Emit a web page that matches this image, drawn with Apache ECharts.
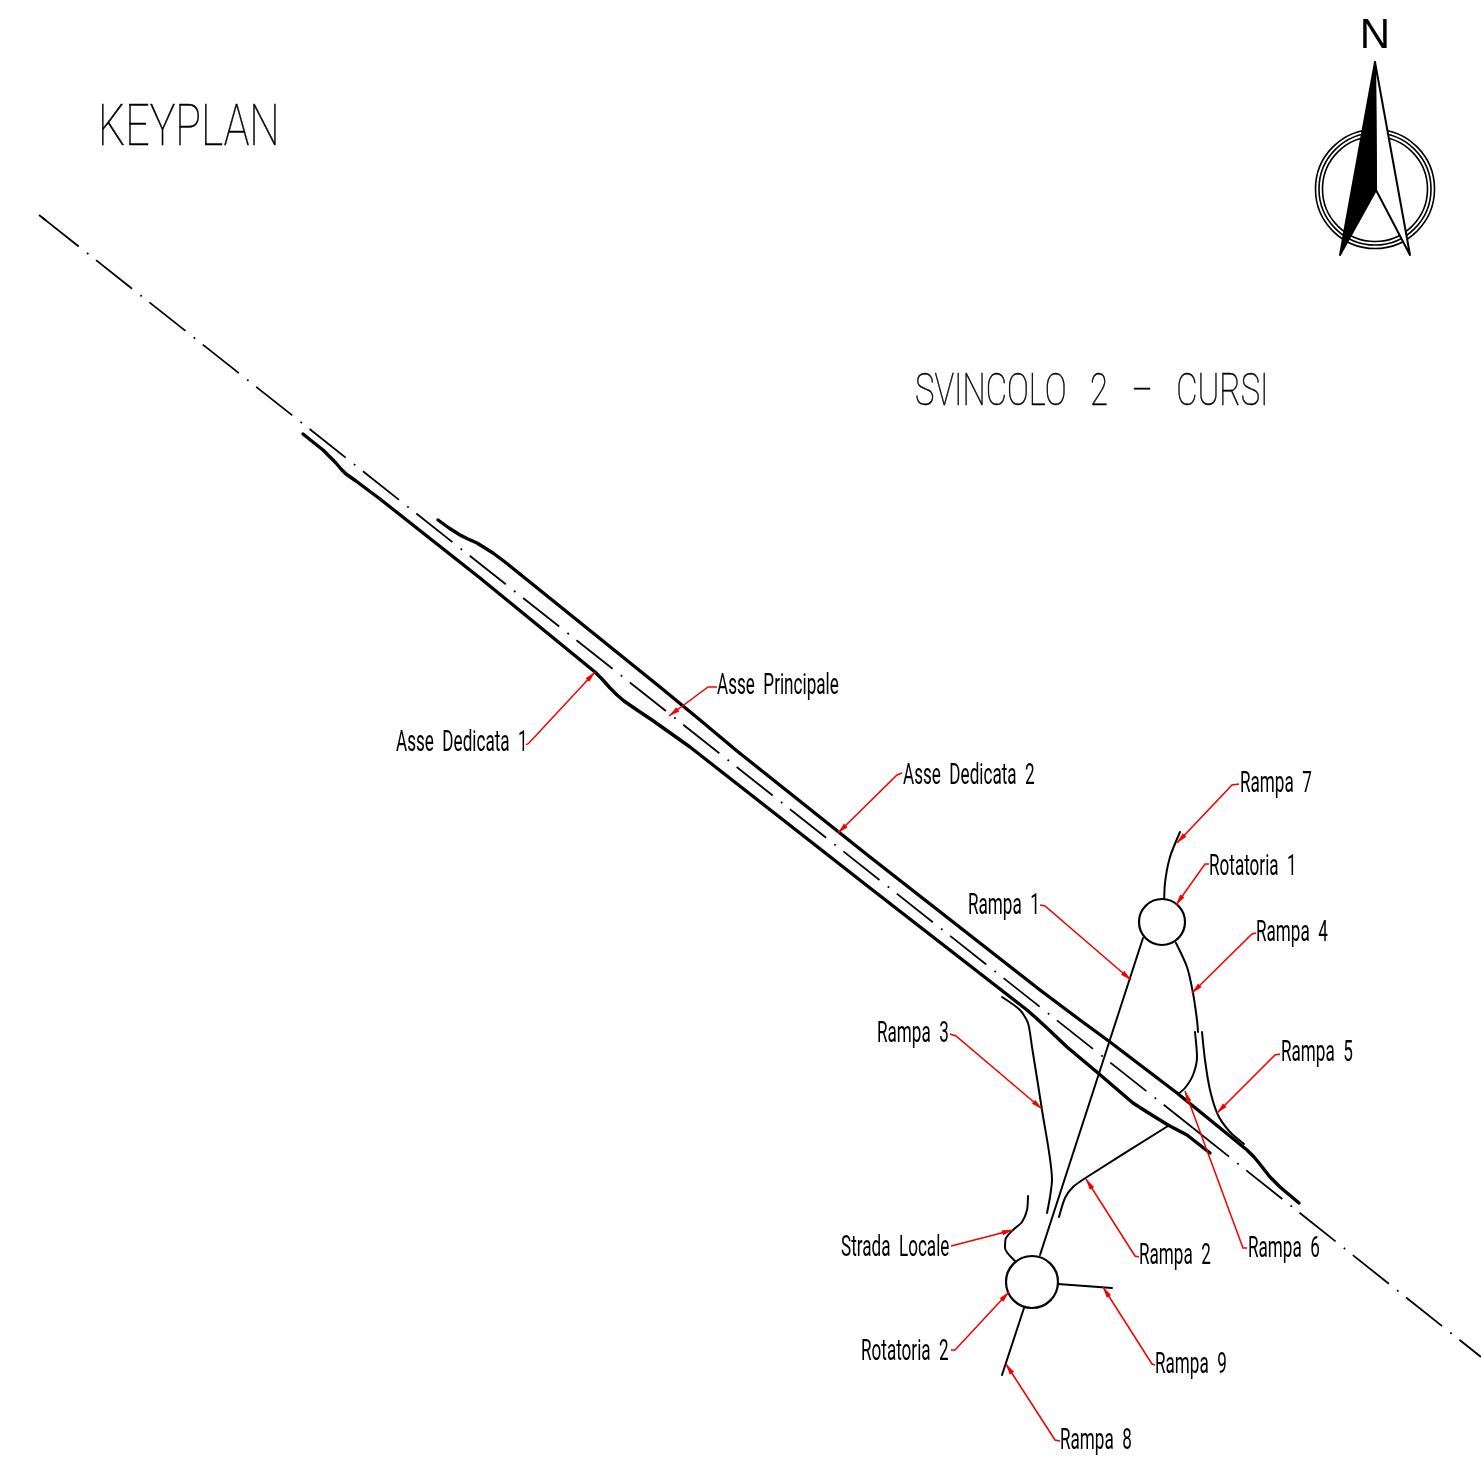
<!DOCTYPE html>
<html><head><meta charset="utf-8">
<style>html,body{margin:0;padding:0;background:#fff}#c{width:1481px;height:1463px}</style>
<script src="https://cdn.jsdelivr.net/npm/echarts@6/dist/echarts.min.js"></script>
</head><body><div id="c"></div>
<script>
// ---- road geometry (drawing units = reference pixels) ----
const centerLineHead = [[39,215],[46,220.5]];
const centerLineWest = [[39,215],[1193,1128]];
const centerLineEast = [[1193,1128],[1481,1357]];
const asseDedicata1 = [[303,434],[313,442],[323,450],[330,457],[336,463],[341,469],[346,474],[351,477.5],[356,481],[380,499],[480,578],[595,672],[602,679],[610,688],[617,695],[624,701],[637,710],[652,720],[690,747],[870,888],[1027,1010],[1035,1017],[1047,1028],[1067,1047],[1098,1073],[1133,1103],[1147,1112],[1168,1125],[1187,1135],[1210,1153]];
const asseDedicata2 = [[438,520],[449,528],[460,535],[468,539],[477,543],[485,548],[493,553],[505,562],[660,687],[700,720],[737,751],[870,857],[1040,990],[1080,1020],[1110,1042],[1177,1093],[1247,1150],[1254,1157],[1259,1163],[1270,1177],[1280,1187],[1299,1203]];
const rampa1 = [[1143,938],[1040,1255]];
const rampa2 = [[1168,1126],[1087,1177],[1073,1187],[1065,1198],[1059,1217]];
const rampa3 = [[1002,997],[1020,1010],[1028,1023],[1032,1047],[1042,1110],[1052,1180],[1050,1197],[1047,1213]];
const rampa4 = [[1176,943],[1187,967],[1193,993],[1197,1020],[1198,1032]];
const rampa5 = [[1202,1032],[1205,1060],[1210,1090],[1218,1115],[1230,1132],[1244,1144]];
const rampa6 = [[1195,1032],[1197,1057],[1193,1075],[1185,1088],[1178,1094]];
const rampa7 = [[1180,832],[1170,857],[1165,883],[1164,907]];
const rampa8 = [[1024,1308],[1002,1375]];
const rampa9 = [[1058,1284],[1112,1288]];
const stradaLocale = [[1028,1196],[1027,1210],[1022,1222],[1013,1230],[1006,1238],[1005,1248],[1015,1261]];
const roundabouts = [[1162,922],[1032,1282]];
// ---- north arrow ----
const compassCentre = [[1375,189]];
const bladeFilled = [[1375,62],[1340,255],[1376,190]];
const bladeOpen = [[1375,62],[1410,255],[1376,190]];
// ---- labels ----
const labelTexts = ["Asse  Dedicata  1","Asse  Principale","Asse  Dedicata  2","Rampa  7","Rotatoria  1","Rampa  1","Rampa  4","Rampa  5","Rampa  3","Rampa  2","Rampa  6","Strada  Locale","Rotatoria  2","Rampa  9","Rampa  8"];
const labelAnchors = [[396,743],[717,686],[903,776],[1240,784],[1209,867],[968,906],[1256,933],[1281,1053],[877,1034],[1139,1256],[1248,1249],[841,1248],[861,1352],[1155,1365],[1060,1441]];
const leaders = [
 [[526,745],[529,743],[595,672]],
 [[717,687],[708,687],[669,716]],
 [[902,773],[897,775],[838,833]],
 [[1239,784],[1232,785],[1177,843]],
 [[1209,864],[1205,864],[1176,905]],
 [[1040,905],[1045,906],[1131,980]],
 [[1256,933],[1252,934],[1192,993]],
 [[1280,1054],[1275,1055],[1217,1113]],
 [[950,1034],[956,1036],[1042,1109]],
 [[1139,1257],[1135,1256],[1086,1179]],
 [[1247,1248],[1243,1248],[1185,1091]],
 [[951,1246],[955,1245],[1013,1230]],
 [[951,1350],[955,1350],[1009,1292]],
 [[1155,1365],[1152,1364],[1103,1287]],
 [[1060,1441],[1055,1440],[1006,1364]]
];
const titleTexts = ["KEYPLAN","SVINCOLO   2   –   CURSI"];
const titleAnchors = [[98,130],[915,394]];
const northText = ["N"];
const northAnchor = [[1375,36]];

const roads = [
 ['Rampa 1',rampa1,2],['Rampa 2',rampa2,2],['Rampa 3',rampa3,2],['Rampa 4',rampa4,2],['Rampa 5',rampa5,2],
 ['Rampa 6',rampa6,2],['Rampa 7',rampa7,2],['Rampa 8',rampa8,2],['Rampa 9',rampa9,2],['Strada Locale',stradaLocale,2]
];
const mainRoads = [['Asse Dedicata 1',asseDedicata1],['Asse Dedicata 2',asseDedicata2]];
const dashPattern = [46,10.5,1.8,9.77];
const chart = echarts.init(document.getElementById('c'),null,{renderer:'canvas'});
const textSeries=(name,texts,anchors,font,scaleX,align,z,boldness)=>({
  type:'custom',name,coordinateSystem:'cartesian2d',clip:false,z,silent:true,
  data:anchors,
  renderItem(p,api){
    const c=api.coord([api.value(0),api.value(1)]);
    return {type:'text',x:c[0],y:c[1],scaleX,style:{text:texts[p.dataIndex],font,fill:'#000',stroke:boldness?'#000':null,lineWidth:boldness||0,textAlign:align,textVerticalAlign:'middle'}};
  }
});
const polySeries=(name,polys,fill,z)=>({
  type:'custom',name,coordinateSystem:'cartesian2d',clip:false,z,silent:true,
  data:polys.map(p=>p[0]),
  renderItem(p,api){
    return {type:'polygon',shape:{points:polys[p.dataIndex].map(q=>api.coord(q))},style:{fill,stroke:'#000',lineWidth:2,lineJoin:'round'}};
  }
});
chart.setOption({
  animation:false,backgroundColor:'#fff',
  grid:{left:0,right:0,top:0,bottom:0},
  xAxis:{type:'value',min:0,max:1481,show:false},
  yAxis:{type:'value',min:0,max:1463,inverse:true,show:false},
  series:[
    {type:'line',name:'Asse Principale testa',data:centerLineHead,symbol:'none',silent:true,clip:false,z:2,
     lineStyle:{color:'#000',width:1.8}},
    {type:'line',name:'Asse Principale',data:centerLineWest,symbol:'none',silent:true,clip:false,z:2,
     lineStyle:{color:'#000',width:1.8,type:dashPattern,dashOffset:63.4}},
    {type:'line',name:'Asse Principale Est',data:centerLineEast,symbol:'none',silent:true,clip:false,z:2,
     lineStyle:{color:'#000',width:1.8,type:dashPattern,dashOffset:0}},
    ...mainRoads.map(([name,d])=>({type:'line',name,data:d,symbol:'none',smooth:false,silent:true,clip:false,z:3,
      lineStyle:{color:'#000',width:3.4,cap:'round',join:'round'}})),
    ...roads.map(([name,d,w])=>({type:'line',name,data:d,symbol:'none',smooth:0.25,silent:true,clip:false,z:3,
      lineStyle:{color:'#000',width:w,cap:'round'}})),
    {type:'scatter',name:'Rotatorie',data:roundabouts,symbol:'circle',silent:true,clip:false,z:4,
     symbolSize:(v,p)=>p.dataIndex===0?46:52,itemStyle:{color:'#fff',borderColor:'#000',borderWidth:2.2,opacity:1}},
    ...[119,112,105].map((s,i)=>({type:'scatter',name:'Bussola '+i,data:compassCentre,symbol:'circle',symbolSize:s,silent:true,clip:false,z:5,
      itemStyle:{color:'#fff',borderColor:'#000',borderWidth:1.6,opacity:1}})),
    polySeries('Ago aperto',[bladeOpen],'#fff',6),
    polySeries('Ago pieno',[bladeFilled],'#000',7),
    {type:'custom',name:'Richiami',coordinateSystem:'cartesian2d',clip:false,z:8,silent:true,
     data:leaders.map(l=>l[2]),
     renderItem(p,api){
       const pts=leaders[p.dataIndex].map(q=>api.coord(q));
       const a=pts[1],b=pts[2],dx=b[0]-a[0],dy=b[1]-a[1],L=Math.hypot(dx,dy),ux=dx/L,uy=dy/L,al=11,aw=2.6;
       const bx=b[0]-ux*al,by=b[1]-uy*al;
       return {type:'group',children:[
         {type:'polyline',shape:{points:pts},style:{stroke:'#f00000',fill:'none',lineWidth:1.5}},
         {type:'polygon',shape:{points:[b,[bx-uy*aw,by+ux*aw],[bx+uy*aw,by-ux*aw]]},style:{fill:'#f00000'}}
       ]};
     }},
    textSeries('Etichette',labelTexts,labelAnchors,'400 30px Roboto',0.57,'left',9,0),
    textSeries('Keyplan',[titleTexts[0]],[titleAnchors[0]],'100 58px Roboto',0.74,'left',9,0.5),
    textSeries('Svincolo',[titleTexts[1]],[titleAnchors[1]],'100 44px Roboto',0.745,'left',9,0.5),
    textSeries('Nord',northText,northAnchor,'400 42px "Liberation Sans"',1,'center',9,0)
  ]
});
</script></body></html>
